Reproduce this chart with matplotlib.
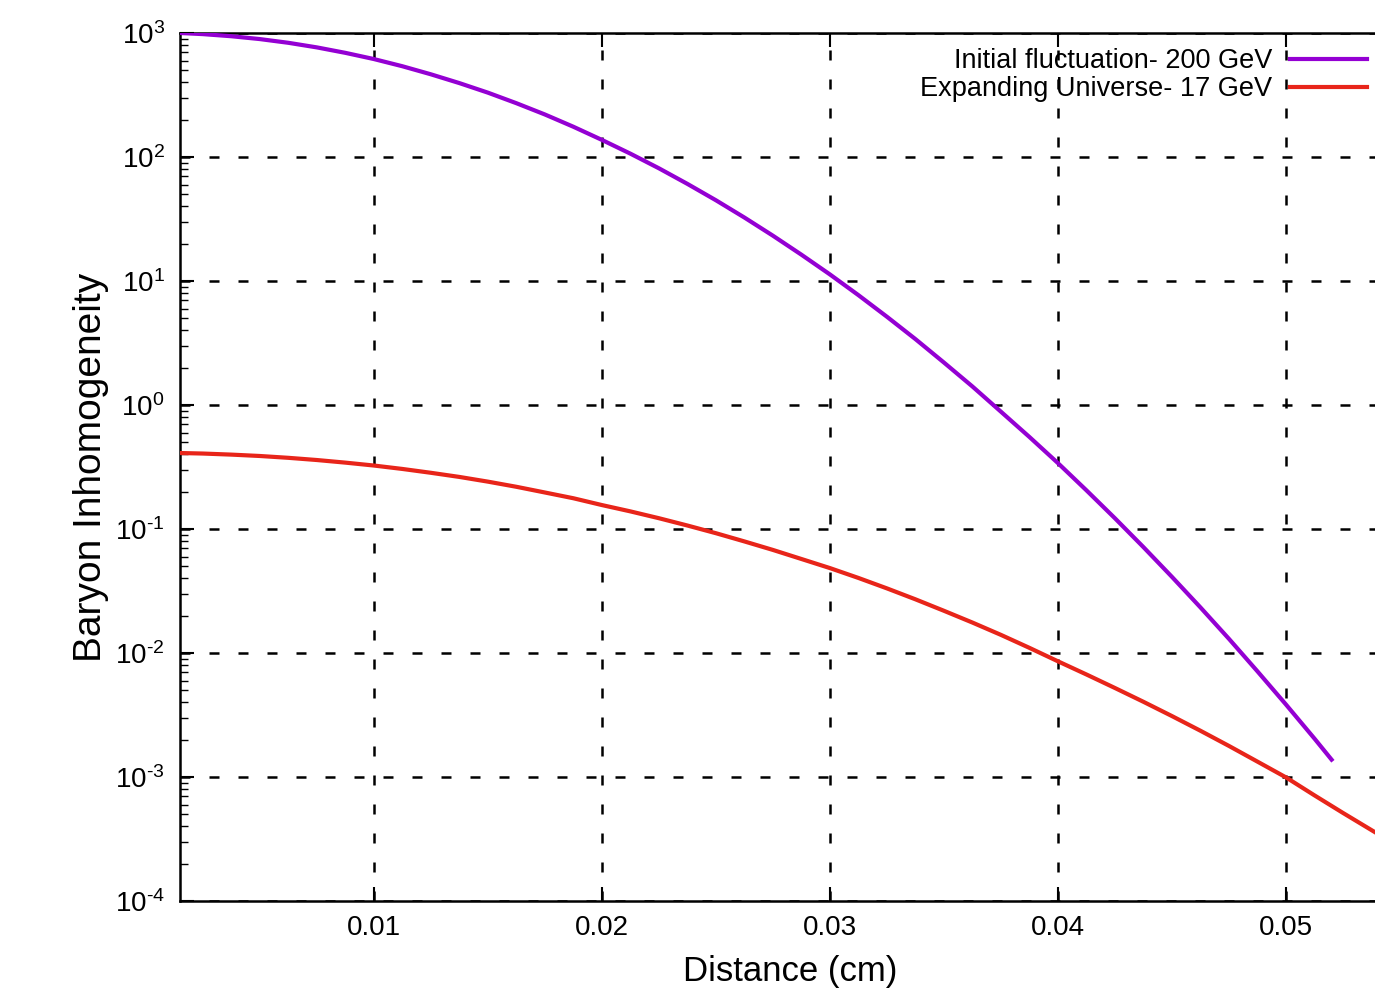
import math

import matplotlib
matplotlib.use("Agg")
import matplotlib.pyplot as plt
from matplotlib.ticker import LogLocator, FuncFormatter, NullFormatter

plt.rcParams['font.family'] = ['Liberation Sans', 'DejaVu Sans']
plt.rcParams['mathtext.fontset'] = 'custom'
plt.rcParams['mathtext.rm'] = 'Liberation Sans'
plt.rcParams['mathtext.it'] = 'Liberation Sans'

# baryon inhomogeneity vs distance (cm)
dist_initial = [0.0015, 0.0025, 0.00375, 0.005, 0.00625, 0.0075, 0.00875, 0.01,
                0.01125, 0.0125, 0.01375, 0.015, 0.01625, 0.0175, 0.01875, 0.02,
                0.02125, 0.0225, 0.02375, 0.025, 0.02625, 0.0275, 0.02875, 0.03,
                0.03125, 0.0325, 0.03375, 0.035, 0.03625, 0.0375, 0.03875, 0.04,
                0.04125, 0.0425, 0.04375, 0.045, 0.04625, 0.0475, 0.04875, 0.05,
                0.05125, 0.052]
inhom_initial = [1000, 979.5, 941.8, 893.3, 833.7, 765.6, 691.8, 616.6,
                 539.5, 464.5, 394.5, 330.4, 271.6, 220.3, 175.4, 137.4,
                 106.4, 81.1, 60.7, 44.8, 32.5, 23.2, 16.3, 11.3,
                 7.69, 5.15, 3.40, 2.20, 1.41, 0.883, 0.552, 0.340,
                 0.205, 0.122, 0.0714, 0.0411, 0.0233, 0.0130, 0.00711, 0.00384,
                 0.00204, 0.00138]

dist_expanding = [0.0015, 0.0025, 0.00375, 0.005, 0.00625, 0.0075, 0.00875, 0.01,
                  0.01125, 0.0125, 0.01375, 0.015, 0.01625, 0.0175, 0.01875, 0.02,
                  0.02125, 0.0225, 0.02375, 0.025, 0.02625, 0.0275, 0.02875, 0.03,
                  0.03125, 0.0325, 0.03375, 0.035, 0.03625, 0.0375, 0.03875, 0.04,
                  0.04125, 0.0425, 0.04375, 0.045, 0.04625, 0.0475, 0.04875, 0.05,
                  0.05125, 0.0525, 0.054]
inhom_expanding = [0.410, 0.406, 0.398, 0.388, 0.375, 0.360, 0.343, 0.325,
                   0.305, 0.284, 0.263, 0.241, 0.219, 0.197, 0.177, 0.156,
                   0.1387, 0.1222, 0.1067, 0.0925, 0.0794, 0.0678, 0.0573, 0.0484,
                   0.0403, 0.0332, 0.0271, 0.0219, 0.0176, 0.0140, 0.0110, 0.00857,
                   0.00671, 0.00522, 0.00404, 0.00310, 0.00236, 0.00178, 0.00133, 0.000993,
                   0.000711, 0.000513, 0.000350]

x_ticks = [0.01, 0.02, 0.03, 0.04, 0.05]
x_tick_labels = ['0.01', '0.02', '0.03', '0.04', '0.05']


def pow10_label(val, pos):
    exp = int(round(math.log10(val)))
    if exp < 0:
        return r'$10^{\text{-}%d}$' % (-exp)
    return r'$10^{%d}$' % exp


fig = plt.figure(figsize=(13.75, 9.98), dpi=100)
ax = fig.add_axes([180 / 1375, 97 / 998, 1220 / 1375, 868 / 998])

ax.plot(dist_initial, inhom_initial, color='#9400d3', lw=3,
        label='Initial fluctuation- 200 GeV', zorder=3)
ax.plot(dist_expanding, inhom_expanding, color='#e8251a', lw=3,
        label='Expanding Universe- 17 GeV', zorder=3)

ax.set_yscale('log')
ax.set_xlim(0.0015, 0.055)
ax.set_ylim(1e-4, 1e3)

ax.set_xticks(x_ticks)
ax.set_xticklabels(x_tick_labels)
ax.yaxis.set_major_locator(LogLocator(base=10, numticks=20))
ax.yaxis.set_major_formatter(FuncFormatter(pow10_label))
ax.yaxis.set_minor_locator(LogLocator(base=10, subs=range(2, 10), numticks=20))
ax.yaxis.set_minor_formatter(NullFormatter())

ax.tick_params(axis='both', which='major', direction='in', length=10, width=1.5,
               labelsize=20, top=True, right=True)
ax.tick_params(axis='x', which='major', pad=10)
ax.tick_params(axis='y', which='major', pad=11)
ax.tick_params(axis='y', which='minor', direction='in', length=6, width=1, right=True)

ax.grid(True, which='major', color='black', lw=1.8, linestyle=(0, (4, 7.6)))

for side in ['left', 'bottom', 'top']:
    ax.spines[side].set_linewidth(1.8)
ax.spines['right'].set_visible(False)

ax.set_xlabel('Distance (cm)', fontsize=25)
ax.set_ylabel('Baryon Inhomogeneity', fontsize=28)
ax.xaxis.set_label_coords(0.5, -0.062)
ax.yaxis.set_label_coords(-0.058, 0.5)

ax.legend(loc='upper right', bbox_to_anchor=(1367 / 1375, 1 - 48 / 998),
          bbox_transform=fig.transFigure, frameon=False, markerfirst=False,
          fontsize=19.5, handlelength=2.84, handletextpad=0.66,
          labelspacing=0.09, borderpad=0, borderaxespad=0)

plt.savefig('out.png', dpi=100)
